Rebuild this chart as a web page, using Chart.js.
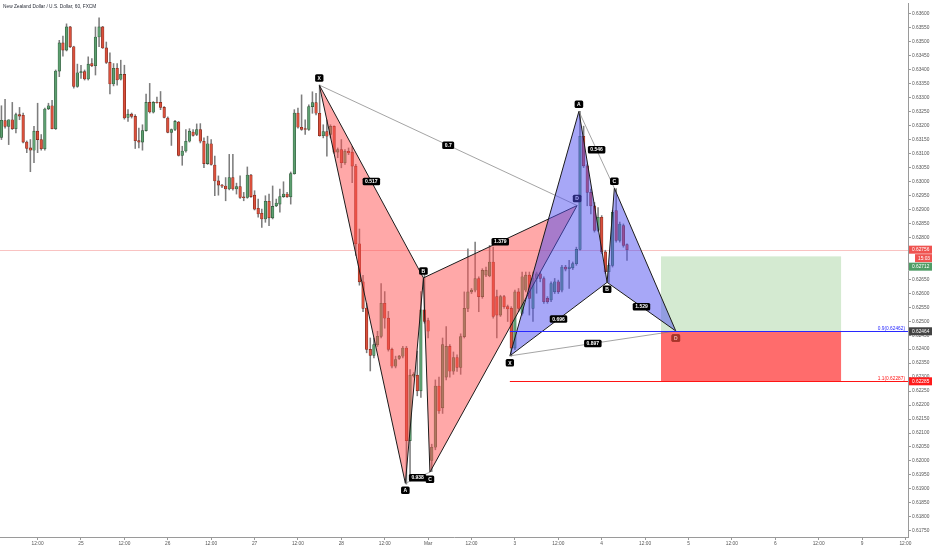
<!DOCTYPE html>
<html>
<head>
<meta charset="utf-8">
<script src="https://cdn.jsdelivr.net/npm/chart.js@4.4.1/dist/chart.umd.min.js"></script>
<style>
  html, body { margin: 0; padding: 0; background: #fff; }
  #wrap { width: 932px; height: 550px; }
</style>
</head>
<body>
<div id="wrap"><canvas id="myChart"></canvas></div>
<script>
// NZD/USD 60 min, FXCM - candles
var chartTitle = 'New Zealand Dollar / U.S. Dollar, 60, FXCM';
var firstCandleHour = 2; // hours counted from Mon 24 Feb 00:00, weekend skipped

var openPrices = [
  0.63158,0.63218,0.63197,0.63221,0.63189,0.63239,0.63237,0.63141,0.63120,0.63112,
  0.63180,0.63150,0.63117,0.63260,0.63271,0.63189,0.63395,0.63496,0.63470,0.63553,
  0.63482,0.63340,0.63389,0.63393,0.63367,0.63422,0.63414,0.63517,0.63553,0.63478,
  0.63426,0.63349,0.63405,0.63366,0.63383,0.63229,0.63241,0.63233,0.63146,0.63141,
  0.63182,0.63283,0.63248,0.63283,0.63283,0.63265,0.63227,0.63176,0.63186,0.63213,
  0.63093,0.63109,0.63144,0.63177,0.63168,0.63186,0.63144,0.63064,0.63135,0.63059,
  0.63002,0.62987,0.62984,0.62973,0.63014,0.62973,0.62982,0.62945,0.62943,0.63023,
  0.62951,0.62904,0.62886,0.62866,0.62929,0.62870,0.62913,0.62919,0.62946,0.62955,
  0.62945,0.63028,0.63245,0.63194,0.63189,0.63186,0.63268,0.63282,0.63244,0.63164,
  0.63179,0.63168,0.63197,0.63105,0.63114,0.63067,0.63108,0.63105,0.63055,0.62777,
  0.62641,0.62547,0.62399,0.62378,0.62416,0.62446,0.62564,0.62511,0.62399,0.62339,
  0.62367,0.62375,0.62404,0.62073,0.62304,0.62307,0.62251,0.62541,0.62502,0.62002,
  0.62049,0.62268,0.62190,0.62300,0.62410,0.62321,0.62370,0.62335,0.62445,0.62546,
  0.62605,0.62611,0.62653,0.62588,0.62665,0.62662,0.62712,0.62588,0.62522,0.62588,
  0.62552,0.62546,0.62404,0.62605,0.62528,0.62611,0.62665,0.62546,0.62653,0.62670,
  0.62653,0.62582,0.62576,0.62605,0.62641,0.62611,0.62694,0.62688,0.62691,0.62706,
  0.62757,0.63162,0.63056,0.62961,0.62913,0.62825,0.62872,0.62748,0.62677,0.62700,
  0.62896,0.62789,0.62842,0.62774
];
var highPrices = [
  0.63271,0.63294,0.63221,0.63283,0.63245,0.63265,0.63245,0.63145,0.63150,0.63197,
  0.63280,0.63168,0.63263,0.63280,0.63290,0.63399,0.63505,0.63520,0.63564,0.63555,
  0.63484,0.63420,0.63416,0.63399,0.63446,0.63440,0.63553,0.63586,0.63555,0.63499,
  0.63460,0.63422,0.63422,0.63434,0.63416,0.63257,0.63245,0.63239,0.63191,0.63203,
  0.63313,0.63351,0.63286,0.63302,0.63322,0.63268,0.63231,0.63188,0.63219,0.63215,
  0.63126,0.63186,0.63189,0.63186,0.63206,0.63207,0.63156,0.63162,0.63150,0.63091,
  0.63020,0.62990,0.63014,0.63097,0.63097,0.62994,0.63020,0.62961,0.63052,0.63026,
  0.62967,0.62937,0.62901,0.62949,0.62955,0.62984,0.62937,0.62973,0.62999,0.62961,
  0.63034,0.63257,0.63263,0.63310,0.63221,0.63274,0.63321,0.63315,0.63345,0.63203,
  0.63221,0.63203,0.63199,0.63120,0.63150,0.63114,0.63120,0.63126,0.63061,0.62830,
  0.62664,0.62564,0.62440,0.62440,0.62464,0.62635,0.62606,0.62535,0.62404,0.62375,
  0.62378,0.62410,0.62410,0.62327,0.62316,0.62393,0.62606,0.62676,0.62511,0.62060,
  0.62290,0.62300,0.62440,0.62481,0.62416,0.62390,0.62380,0.62455,0.62605,0.62759,
  0.62617,0.62783,0.62659,0.62688,0.62694,0.62771,0.62765,0.62611,0.62593,0.62593,
  0.62558,0.62552,0.62611,0.62617,0.62676,0.62676,0.62676,0.62676,0.62676,0.62676,
  0.62659,0.62588,0.62641,0.62653,0.62647,0.62700,0.62700,0.62718,0.62712,0.62765,
  0.63251,0.63198,0.63061,0.62973,0.62925,0.62907,0.62878,0.62754,0.62706,0.62896,
  0.62975,0.62855,0.62848,0.62777
];
var lowPrices = [
  0.63150,0.63191,0.63132,0.63186,0.63174,0.63221,0.63138,0.63103,0.63035,0.63067,
  0.63103,0.63112,0.63112,0.63257,0.63188,0.63186,0.63375,0.63448,0.63467,0.63479,
  0.63334,0.63337,0.63369,0.63363,0.63363,0.63411,0.63381,0.63482,0.63476,0.63422,
  0.63313,0.63342,0.63345,0.63363,0.63223,0.63215,0.63227,0.63118,0.63120,0.63112,
  0.63180,0.63245,0.63245,0.63280,0.63257,0.63227,0.63174,0.63129,0.63182,0.63091,
  0.63058,0.63105,0.63141,0.63162,0.63164,0.63138,0.63049,0.63061,0.63058,0.62949,
  0.62951,0.62978,0.62931,0.62970,0.62969,0.62955,0.62939,0.62931,0.62940,0.62943,
  0.62898,0.62872,0.62836,0.62854,0.62842,0.62866,0.62910,0.62890,0.62943,0.62943,
  0.62919,0.63026,0.63191,0.63183,0.63168,0.63183,0.63244,0.63238,0.63162,0.63156,
  0.63091,0.63156,0.63100,0.63085,0.63049,0.63061,0.63096,0.62996,0.62735,0.62629,
  0.62534,0.62387,0.62322,0.62369,0.62410,0.62440,0.62475,0.62393,0.62333,0.62333,
  0.62363,0.62369,0.61917,0.61931,0.62300,0.62233,0.62227,0.62493,0.62440,0.61962,
  0.62040,0.62170,0.62170,0.62290,0.62300,0.62310,0.62320,0.62310,0.62440,0.62534,
  0.62599,0.62605,0.62534,0.62582,0.62659,0.62659,0.62511,0.62440,0.62517,0.62546,
  0.62499,0.62375,0.62398,0.62534,0.62522,0.62605,0.62522,0.62499,0.62600,0.62641,
  0.62564,0.62564,0.62570,0.62599,0.62599,0.62605,0.62680,0.62617,0.62685,0.62700,
  0.62754,0.63050,0.62913,0.62884,0.62819,0.62821,0.62742,0.62671,0.62639,0.62694,
  0.62783,0.62783,0.62765,0.62718
];
var closePrices = [
  0.63219,0.63197,0.63221,0.63189,0.63239,0.63234,0.63141,0.63118,0.63112,0.63180,
  0.63150,0.63117,0.63259,0.63271,0.63189,0.63395,0.63496,0.63470,0.63553,0.63482,
  0.63340,0.63389,0.63393,0.63367,0.63420,0.63414,0.63517,0.63553,0.63478,0.63426,
  0.63349,0.63405,0.63363,0.63383,0.63227,0.63241,0.63233,0.63146,0.63141,0.63182,
  0.63283,0.63249,0.63283,0.63282,0.63265,0.63229,0.63176,0.63186,0.63215,0.63093,
  0.63109,0.63144,0.63180,0.63165,0.63186,0.63144,0.63064,0.63135,0.63061,0.63002,
  0.62987,0.62983,0.62973,0.63014,0.62973,0.62982,0.62943,0.62942,0.63023,0.62946,
  0.62901,0.62884,0.62866,0.62929,0.62870,0.62911,0.62923,0.62946,0.62955,0.62945,
  0.63028,0.63245,0.63194,0.63186,0.63186,0.63268,0.63282,0.63244,0.63164,0.63179,
  0.63162,0.63197,0.63105,0.63114,0.63067,0.63108,0.63102,0.63055,0.62777,0.62641,
  0.62546,0.62399,0.62378,0.62416,0.62446,0.62564,0.62511,0.62399,0.62339,0.62363,
  0.62375,0.62404,0.62073,0.62307,0.62310,0.62251,0.62541,0.62499,0.62464,0.62049,
  0.62268,0.62179,0.62416,0.62410,0.62321,0.62370,0.62335,0.62445,0.62546,0.62605,
  0.62611,0.62653,0.62588,0.62682,0.62682,0.62712,0.62517,0.62522,0.62588,0.62552,
  0.62544,0.62404,0.62605,0.62546,0.62659,0.62665,0.62582,0.62653,0.62670,0.62653,
  0.62570,0.62570,0.62635,0.62641,0.62605,0.62694,0.62686,0.62694,0.62706,0.62757,
  0.63162,0.63056,0.62961,0.62913,0.62825,0.62872,0.62748,0.62677,0.62700,0.62890,
  0.62789,0.62848,0.62771,0.62756
];

// axis ticks
var xTickHours = [12,24,36,48,60,72,84,96,108,120,132,144,156,168,180,192,204,216,228,240,252];
var xTickLabels = ['12:00','25','12:00','26','12:00','27','12:00','28','12:00','Mar','12:00','3',
                   '12:00','4','12:00','5','12:00','6','12:00','9','12:00'];
var yTicks = [0.6360,0.6355,0.6350,0.6345,0.6340,0.6335,0.6330,0.6325,0.6320,0.6315,
              0.6310,0.6305,0.6300,0.6295,0.6290,0.6285,0.6280,0.6275,0.6270,0.6265,
              0.6260,0.6255,0.6250,0.6245,0.6240,0.6235,0.6230,0.6225,0.6220,0.6215,
              0.6210,0.6205,0.6200,0.6195,0.6190,0.6185,0.6180,0.6175];

// XABCD patterns
var pointNames = ['X','A','B','C','D'];
var redHours = [89.9, 113.7, 118.7, 120.5, 161.2];
var redPrices = [0.63345, 0.61920, 0.62655, 0.61960, 0.62914];
var redRatios = ['0.517', '0.7', '0.938', '1.379'];
var blueHours = [142.6, 161.7, 169.5, 171.5, 188.5];
var bluePrices = [0.62376, 0.63251, 0.62639, 0.62976, 0.62465];
var blueRatios = ['0.696', '0.897', '0.546', '1.529'];

// long position tool + levels
var boxStartHour = 184.4, boxEndHour = 234.2;
var targetPrice = 0.62732, entryPrice = 0.62464, stopPrice = 0.62285;
var levelStartHour = 142.6;
var levelPrices = [0.62464, 0.62285];
var levelTexts = ['0.9(0.62462)', '1.1(0.62287)'];
var lastPrice = 0.62756, bidPrice = 0.62712, countdown = '15:03';

var upColor = '#5d9f70', upBorder = '#2c5537';
var downColor = '#d9503c', downBorder = '#7a2418';

var hours = openPrices.map(function(_, i) { return firstCandleHour + i; });
var isUp = function(i) { return closePrices[i] >= openPrices[i]; };

function box(ctx, text, cx, cy, bg, fg) {
    ctx.font = 'bold 5px "Liberation Sans", Arial, sans-serif';
    var w = Math.max(ctx.measureText(text).width + 5, 7.5);
    var h = 7.5;
    ctx.fillStyle = bg;
    ctx.beginPath();
    if (ctx.roundRect) ctx.roundRect(cx - w / 2, cy - h / 2, w, h, 1.5);
    else ctx.rect(cx - w / 2, cy - h / 2, w, h);
    ctx.fill();
    ctx.fillStyle = fg;
    ctx.textAlign = 'center';
    ctx.textBaseline = 'middle';
    ctx.fillText(text, cx, cy + 0.3);
}

function drawPattern(chart, hrs, prices, ratios, fill, sides, lastBg, lastFg) {
    var ctx = chart.ctx, sx = chart.scales.x, sy = chart.scales.y;
    var pts = hrs.map(function(h, i) { return {x: sx.getPixelForValue(h), y: sy.getPixelForValue(prices[i])}; });
    var tris = [[0, 1, 2], [2, 3, 4]];
    tris.forEach(function(t) {
        ctx.beginPath();
        ctx.moveTo(pts[t[0]].x, pts[t[0]].y);
        ctx.lineTo(pts[t[1]].x, pts[t[1]].y);
        ctx.lineTo(pts[t[2]].x, pts[t[2]].y);
        ctx.closePath();
        ctx.fillStyle = fill;
        ctx.fill();
        ctx.strokeStyle = '#1b1b1b';
        ctx.lineWidth = 1;
        ctx.stroke();
    });
    ctx.strokeStyle = '#7c7c7c';
    ctx.lineWidth = 0.7;
    [[0, 4], [1, 3]].forEach(function(p) {
        ctx.beginPath();
        ctx.moveTo(pts[p[0]].x, pts[p[0]].y);
        ctx.lineTo(pts[p[1]].x, pts[p[1]].y);
        ctx.stroke();
    });
    [[0, 2], [0, 4], [1, 3], [2, 4]].forEach(function(p, k) {
        box(ctx, ratios[k], (pts[p[0]].x + pts[p[1]].x) / 2, (pts[p[0]].y + pts[p[1]].y) / 2, '#000', '#fff');
    });
    pts.forEach(function(p, i) {
        var last = i === 4;
        box(ctx, pointNames[i], p.x, p.y + sides[i] * 7, last ? lastBg : '#000', last ? lastFg : '#fff');
    });
}

var drawings = {
    id: 'drawings',
    beforeDatasetsDraw: function(chart) {
        var ctx = chart.ctx, a = chart.chartArea;
        var y = Math.round(chart.scales.y.getPixelForValue(lastPrice)) + 0.5;
        ctx.save();
        ctx.strokeStyle = 'rgba(239,83,80,0.35)';
        ctx.lineWidth = 1;
        ctx.beginPath(); ctx.moveTo(a.left, y); ctx.lineTo(a.right, y); ctx.stroke();
        ctx.restore();
    },
    afterDatasetsDraw: function(chart) {
        var ctx = chart.ctx, a = chart.chartArea, sx = chart.scales.x, sy = chart.scales.y;
        ctx.save();
        var x0 = sx.getPixelForValue(boxStartHour), x1 = sx.getPixelForValue(boxEndHour);
        var yT = sy.getPixelForValue(targetPrice), yE = sy.getPixelForValue(entryPrice), yS = sy.getPixelForValue(stopPrice);
        ctx.fillStyle = 'rgba(102,180,90,0.28)';
        ctx.fillRect(x0, yT, x1 - x0, yE - yT);
        ctx.fillStyle = 'rgba(255,82,82,0.85)';
        ctx.fillRect(x0, yE, x1 - x0, yS - yE);

        drawPattern(chart, redHours, redPrices, redRatios, 'rgba(255,82,82,0.5)', [-1, 1, -1, 1, -1], '#000', '#fff');
        drawPattern(chart, blueHours, bluePrices, blueRatios, 'rgba(80,80,240,0.5)', [1, -1, 1, -1, 1], '#a8342a', '#f3b7ae');

        var lx = sx.getPixelForValue(levelStartHour);
        var lineCols = ['rgb(40,40,255)', 'rgb(255,20,20)'];
        levelPrices.forEach(function(p, i) {
            var y = Math.round(sy.getPixelForValue(p)) + 0.5;
            ctx.strokeStyle = lineCols[i];
            ctx.lineWidth = 1.2;
            ctx.beginPath(); ctx.moveTo(lx, y); ctx.lineTo(a.right, y); ctx.stroke();
            ctx.font = '4.8px "Liberation Sans", Arial, sans-serif';
            ctx.fillStyle = lineCols[i];
            ctx.textAlign = 'right';
            ctx.textBaseline = 'bottom';
            ctx.fillText(levelTexts[i], a.right - 3, y - 0.5);
        });
        // blue D label sits on top of the level line
        var dx = sx.getPixelForValue(blueHours[4]), dy = sy.getPixelForValue(bluePrices[4]);
        box(ctx, pointNames[4], dx, dy + 7, '#a8342a', '#f3b7ae');
        ctx.restore();
    },
    afterDraw: function(chart) {
        var ctx = chart.ctx, a = chart.chartArea, sy = chart.scales.y;
        ctx.save();
        ctx.font = '4.8px "Liberation Sans", Arial, sans-serif';
        ctx.fillStyle = '#2a2e39';
        ctx.textAlign = 'left';
        ctx.textBaseline = 'middle';
        ctx.fillText(chartTitle, 3, 7);

        function tag(text, y, bg, left) {
            ctx.fillStyle = bg;
            ctx.fillRect(left, y - 4, chart.width - left, 8);
            ctx.fillStyle = '#fff';
            ctx.font = '4.8px "Liberation Sans", Arial, sans-serif';
            ctx.textAlign = 'left';
            ctx.textBaseline = 'middle';
            ctx.fillText(text, left + 3, y + 0.3);
        }
        var yLast = sy.getPixelForValue(lastPrice);
        tag(lastPrice.toFixed(5), yLast, '#ef5350', a.right + 1);
        tag(countdown, yLast + 8.5, '#ef5350', a.right + 7);
        tag(bidPrice.toFixed(5), Math.max(sy.getPixelForValue(bidPrice), yLast + 17), '#4f9d66', a.right + 1);
        tag(entryPrice.toFixed(5), sy.getPixelForValue(entryPrice), '#434343', a.right + 1);
        tag(stopPrice.toFixed(5), sy.getPixelForValue(stopPrice), '#ff1a1a', a.right + 1);
        ctx.restore();
    }
};

var ctx = document.getElementById('myChart');

new Chart(ctx, {
    type: 'bar',
    data: {
        datasets: [{
            label: 'body',
            data: hours.map(function(h, i) { return {x: h, y: [openPrices[i], closePrices[i]]}; }),
            backgroundColor: function(c) { return isUp(c.dataIndex) ? upColor : downColor; },
            borderColor: function(c) { return isUp(c.dataIndex) ? upBorder : downBorder; },
            borderWidth: 0.6,
            borderSkipped: false,
            barThickness: 2.6,
            grouped: false,
            order: 0
        }, {
            label: 'wick',
            data: hours.map(function(h, i) { return {x: h, y: [lowPrices[i], highPrices[i]]}; }),
            backgroundColor: '#7d7d7d',
            borderWidth: 0,
            barThickness: 0.9,
            grouped: false,
            order: 1
        }]
    },
    options: {
        responsive: true,
        maintainAspectRatio: false,
        animation: false,
        layout: { padding: 0 },
        plugins: { legend: { display: false }, tooltip: { enabled: false } },
        scales: {
            x: {
                type: 'linear',
                min: 1.6,
                max: 252.71,
                offset: false,
                afterBuildTicks: function(s) { s.ticks = xTickHours.map(function(v) { return {value: v}; }); },
                afterFit: function(s) { s.height = 13; },
                ticks: {
                    callback: function(v, i) { return xTickLabels[i]; },
                    autoSkip: false,
                    maxRotation: 0,
                    padding: 1,
                    color: '#555',
                    font: { size: 4.8, family: '"Liberation Sans", Arial, sans-serif' }
                },
                grid: { display: true, offset: false, drawOnChartArea: false, drawTicks: true, tickLength: 3, color: '#9a9a9a' },
                border: { display: true, color: '#9a9a9a' }
            },
            y: {
                position: 'right',
                min: 0.617279,
                max: 0.636355,
                beginAtZero: false,
                afterBuildTicks: function(s) { s.ticks = yTicks.map(function(v) { return {value: v}; }); },
                afterFit: function(s) { s.width = 24; },
                ticks: {
                    callback: function(v) { return v.toFixed(5); },
                    padding: 1,
                    color: '#555',
                    font: { size: 4.8, family: '"Liberation Sans", Arial, sans-serif' }
                },
                grid: { display: true, drawOnChartArea: false, drawTicks: true, tickLength: 3, color: '#9a9a9a' },
                border: { display: true, color: '#9a9a9a' }
            }
        }
    },
    plugins: [drawings]
});
</script>
</body>
</html>
